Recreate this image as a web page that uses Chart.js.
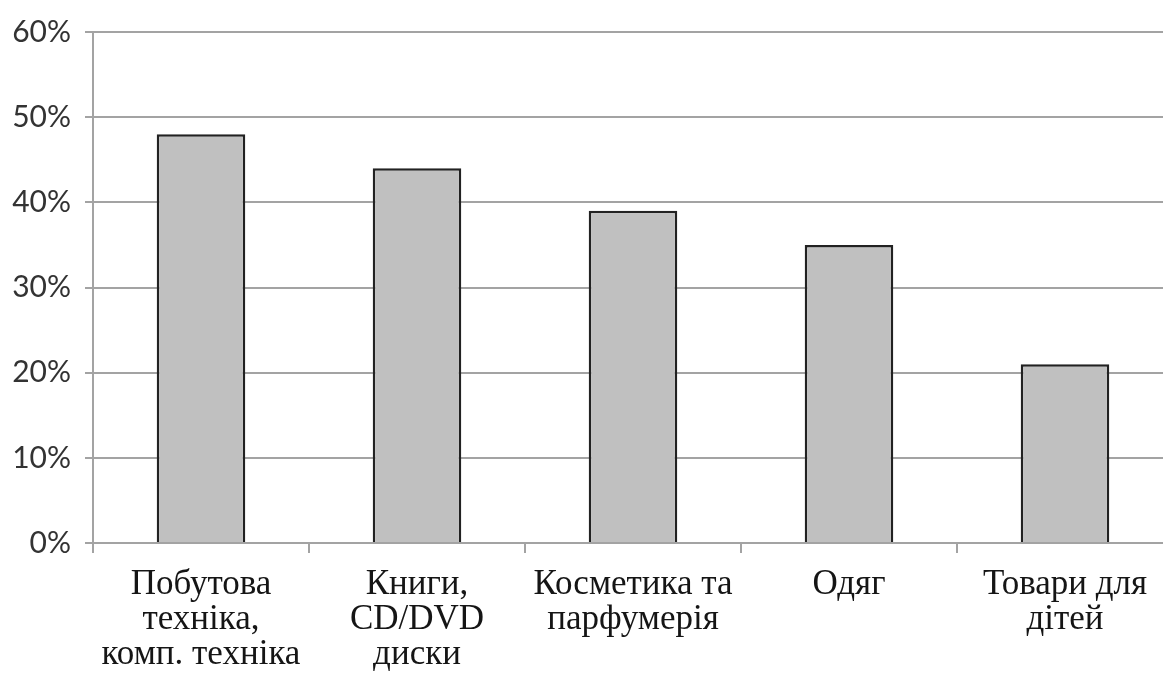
<!DOCTYPE html>
<html lang="uk">
<head>
  <meta charset="UTF-8" />
  <title>Категорії товарів</title>
  <script src="https://cdn.jsdelivr.net/npm/chart.js"></script>
  <style>
    html, body { margin: 0; padding: 0; background: #fff; overflow: hidden; }
    #wrap { position: relative; width: 1175px; height: 677px; }
  </style>
</head>
<body>
  <div id="wrap"><canvas id="grafik"></canvas></div>

  <script>
    // категорії (підписи осі X, по рядках)
    const categories = [
      ["Побутова", "техніка,", "комп. техніка"],
      ["Книги,", "CD/DVD", "диски"],
      ["Косметика та", "парфумерія"],
      ["Одяг"],
      ["Товари для", "дітей"]
    ];
    // частка, %
    const shares = [48, 44, 39, 35, 21];
    const yTicks = [0, 10, 20, 30, 40, 50, 60];

    const gridColor = "#a3a3a3";

    new Chart(document.getElementById("grafik"), {
      type: "bar",
      data: {
        labels: categories,
        datasets: [{
          data: shares,
          backgroundColor: "#c0c0c0",
          borderColor: "#222",
          borderWidth: 2.5,
          barPercentage: 0.41,
          categoryPercentage: 1
        }]
      },
      options: {
        responsive: true,
        maintainAspectRatio: false,
        animation: false,
        layout: { padding: { top: 30, right: 2, left: 0, bottom: 0 } },
        plugins: { legend: { display: false }, tooltip: { enabled: false } },
        scales: {
          x: {
            offset: true,
            grid: { display: true, drawOnChartArea: false, drawTicks: true, tickLength: 10, color: gridColor, lineWidth: 2, offset: true },
            border: { color: gridColor, width: 2 },
            ticks: {
              color: "#151515",
              padding: 14,
              maxRotation: 0,
              autoSkip: false,
              font: { family: "'Liberation Serif', 'Times New Roman', serif", size: 35, lineHeight: 1.0 }
            },
            afterFit: s => { s.height = 134; }
          },
          y: {
            min: 0,
            max: 60,
            afterBuildTicks: s => { s.ticks = yTicks.map(v => ({ value: v })); },
            grid: { color: gridColor, lineWidth: 2, tickLength: 8 },
            border: { color: gridColor, width: 2 },
            ticks: {
              color: "#333",
              padding: 14,
              font: { family: "Lato, 'Liberation Sans', sans-serif", size: 30 },
              callback: v => v + "%"
            },
            afterFit: s => { s.width = 93; }
          }
        }
      }
    });
  </script>
</body>
</html>
